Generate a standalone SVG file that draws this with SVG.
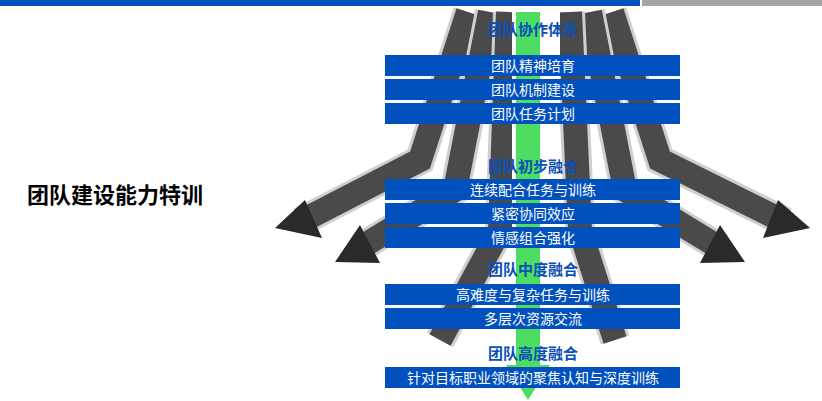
<svg xmlns="http://www.w3.org/2000/svg" width="822" height="401" viewBox="0 0 822 401">
<style>
.bar{fill:#0050BE}
.bt{font-family:"Noto Sans CJK SC",sans-serif;font-size:14px;fill:#fff;text-anchor:middle}
.hd{font-family:"Noto Sans CJK SC",sans-serif;font-size:15px;font-weight:bold;fill:#0A4EB8;text-anchor:middle}
.arr{fill:none;stroke:#4a4a4a;stroke-width:24;stroke-linejoin:miter}
.sh{fill:none;stroke:#cfcfcf;stroke-width:30}
.head{fill:#2a2a2a}
</style>
<rect width="822" height="401" fill="#fff"/>
<rect x="0" y="0" width="640" height="6" fill="#0050BE"/>
<rect x="642" y="0" width="180" height="6" fill="#A6A6A6"/>
<text x="27" y="203" font-family="'Noto Sans CJK SC',sans-serif" font-size="22" font-weight="bold" fill="#000">团队建设能力特训</text>
<g id="fan">
<path class="sh" d="M468,12 L420,160 L300,222"/>
<path class="arr" d="M468,12 L420,160 L300,222"/>
<polygon class="head" points="275,228 305,200 322,238"/>
<path class="sh" d="M490,12 L455,190 L360,248"/>
<path class="arr" d="M490,12 L455,190 L360,248"/>
<polygon class="head" points="335,262 360,225 380,263"/>
<path class="sh" d="M508,12 L500,230 L440,340"/>
<path class="arr" d="M508,12 L500,230 L440,340"/>
<path class="sh" d="M612,12 L660,160 L785,222"/>
<path class="arr" d="M612,12 L660,160 L785,222"/>
<polygon class="head" points="810,228 778,200 763,238"/>
<path class="sh" d="M590,12 L625,190 L720,248"/>
<path class="arr" d="M590,12 L625,190 L720,248"/>
<polygon class="head" points="745,262 720,225 700,263"/>
<path class="sh" d="M570,12 L580,230 L615,340"/>
<path class="arr" d="M570,12 L580,230 L615,340"/>
<rect x="512" y="12" width="48" height="360" fill="#fff"/>
<rect x="516" y="12" width="24" height="360" fill="#4DDD60"/>
<polygon points="506,365 550,365 528,400" fill="#4DDD60"/>
</g>
<g id="n0"><text class="hd" x="533" y="35">团队协作体系</text></g>
<g id="n1"><rect class="bar" x="385" y="55" width="295" height="21"/><text class="bt" x="533" y="71">团队精神培育</text></g>
<g id="n2"><rect class="bar" x="385" y="79" width="295" height="21"/><text class="bt" x="533" y="95">团队机制建设</text></g>
<g id="n3"><rect class="bar" x="385" y="103" width="295" height="21"/><text class="bt" x="533" y="119">团队任务计划</text></g>
<g id="n4"><text class="hd" x="533" y="172">团队初步融合</text></g>
<g id="n5"><rect class="bar" x="385" y="179" width="295" height="21"/><text class="bt" x="533" y="195">连续配合任务与训练</text></g>
<g id="n6"><rect class="bar" x="385" y="203" width="295" height="21"/><text class="bt" x="533" y="219">紧密协同效应</text></g>
<g id="n7"><rect class="bar" x="385" y="227" width="295" height="21"/><text class="bt" x="533" y="243">情感组合强化</text></g>
<g id="n8"><text class="hd" x="533" y="275">团队中度融合</text></g>
<g id="n9"><rect class="bar" x="385" y="284" width="295" height="21"/><text class="bt" x="533" y="300">高难度与复杂任务与训练</text></g>
<g id="n10"><rect class="bar" x="385" y="308" width="295" height="21"/><text class="bt" x="533" y="324">多层次资源交流</text></g>
<g id="n11"><text class="hd" x="533" y="359">团队高度融合</text></g>
<g id="n12"><rect class="bar" x="385" y="367" width="295" height="21"/><text class="bt" x="533" y="383">针对目标职业领域的聚焦认知与深度训练</text></g>
</svg>
